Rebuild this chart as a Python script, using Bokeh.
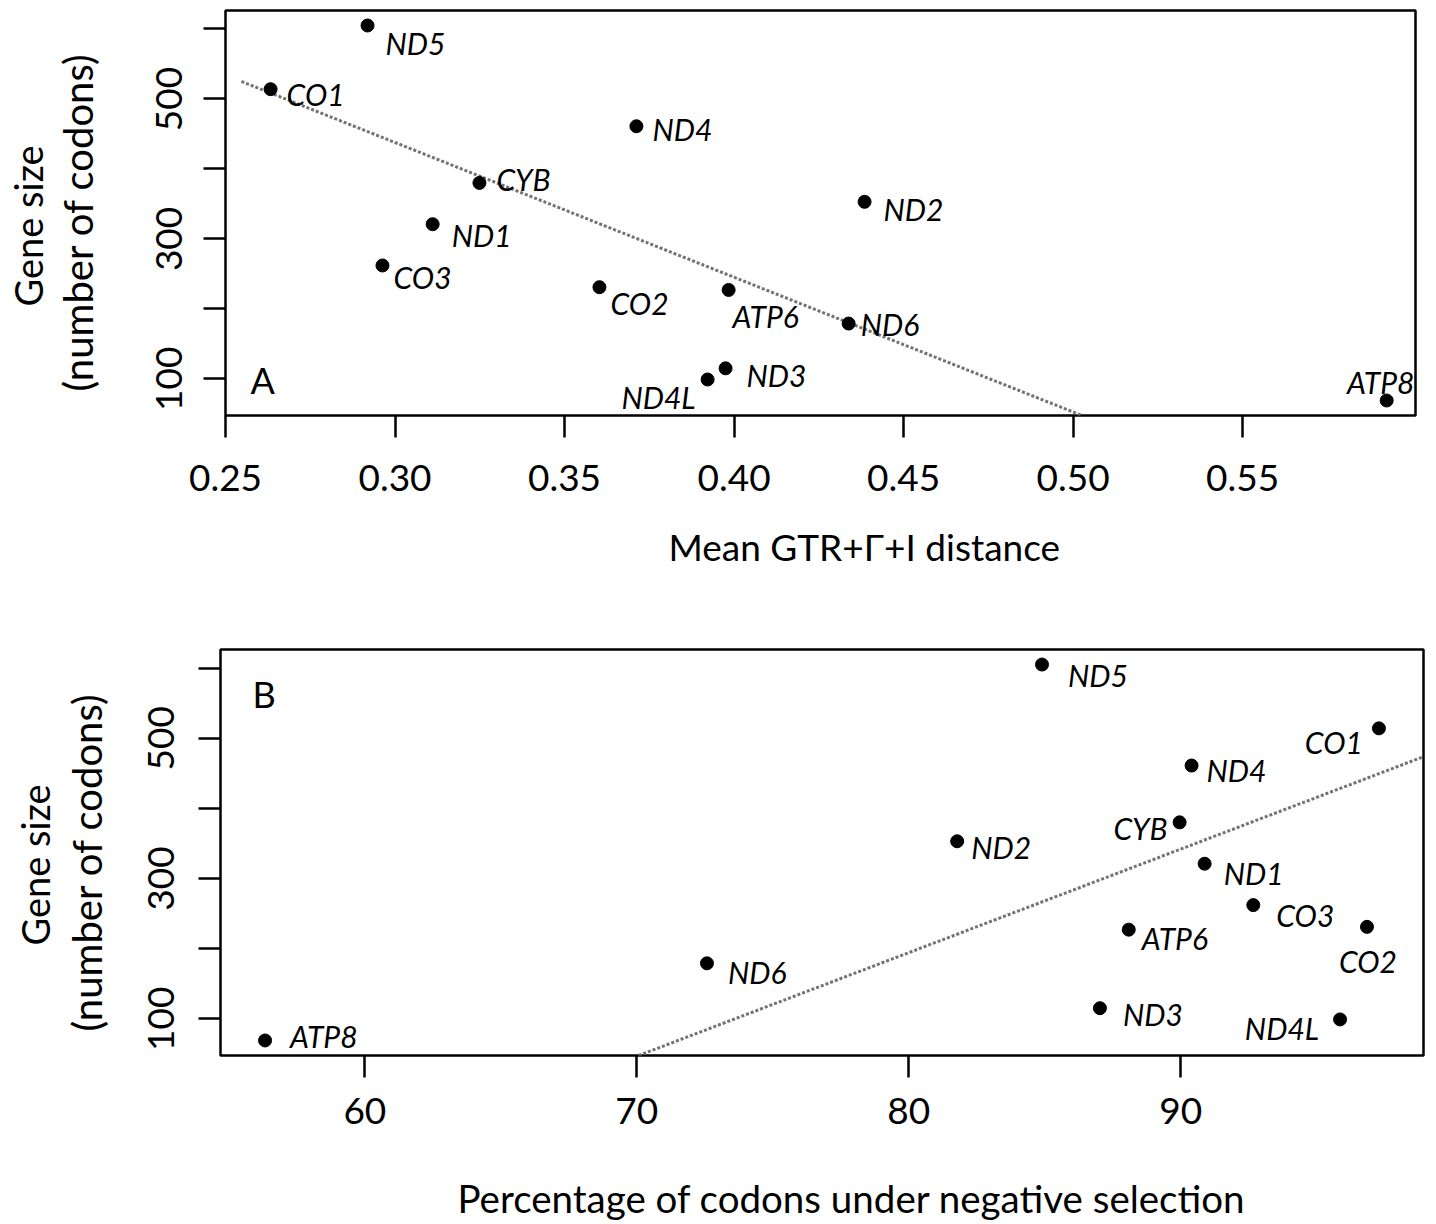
import math
from bokeh.plotting import figure
from bokeh.layouts import column
from bokeh.models import Range1d, FixedTicker, Label, ColumnDataSource, Title, LinearAxis
from bokeh.embed import file_html
from bokeh.resources import INLINE

# ---------------- data ----------------
genes = ["ND5", "CO1", "ND4", "CYB", "ND2", "ND1", "CO3", "CO2", "ATP6", "ND6", "ND3", "ND4L", "ATP8"]
gene_size = [605, 514, 461, 380, 353, 321, 262, 231, 227, 179, 115, 99, 69]
mean_distance = [0.2919, 0.2633, 0.3712, 0.3249, 0.4385, 0.3111, 0.2963, 0.3603, 0.3984, 0.4338, 0.3975, 0.3922, 0.5925]
pct_negative = [84.90, 97.29, 90.40, 89.96, 81.78, 90.88, 92.67, 96.85, 88.09, 72.58, 87.03, 95.86, 56.33]

# fitted regression lines
fit_a_slope, fit_a_intercept, fit_a_x_start = -1926.0, 1015.6, 0.2547
fit_b_slope, fit_b_intercept = 14.76, -986.6

x_ticks_a = [0.25, 0.30, 0.35, 0.40, 0.45, 0.50, 0.55]
x_ticks_b = [60, 70, 80, 90]
y_ticks = [100, 200, 300, 400, 500, 600]
y_tick_labels = {100: "100", 200: "", 300: "300", 400: "", 500: "500", 600: ""}

title_x_a = "Mean GTR+\u0393+I  distance"
title_x_b = "Percentage of codons under negative selection"
title_y = ["Gene size", "(number of codons)"]

# ---------------- style: label placement (pixels) ----------------
lab_a = {"ND5": ("left", 18, 17.5), "CO1": ("left", 16, 4.5), "ND4": ("left", 16, 2.5),
         "CYB": ("left", 17, -3.5), "ND2": ("left", 19, 7.5), "ND1": ("left", 19, 10.5),
         "CO3": ("left", 11, 11.5), "CO2": ("left", 11, 15.5), "ATP6": ("left", 4, 26.5),
         "ND6": ("left", 12, 0.5), "ND3": ("left", 21, 6.5), "ND4L": ("right", -12, 17.5),
         "ATP8": ("center", -6, -18.5)}
lab_b = {"ATP8": ("left", 25, -4.5), "ND6": ("left", 21, 9), "ND2": ("left", 14, 6),
         "ND5": ("left", 26, 10), "CO1": ("right", -16, 13.5), "ND4": ("left", 15, 4.5),
         "CYB": ("right", -12, 6), "ND1": ("left", 19, 9.5), "CO3": ("left", 23, 9.5),
         "ATP6": ("left", 13, 8.5), "CO2": ("center", 1, 34.5), "ND3": ("left", 23, 5.5),
         "ND4L": ("right", -21, 8.5)}

FONT = "Lato"
ymin, ymax = min(gene_size), max(gene_size)
ypad = 0.04 * (ymax - ymin)
y_lo, y_hi = ymin - ypad, ymax + ypad


def spacer_axis(size, at):
    # an axis with one invisible tick whose length reserves `size` pixels
    ax = LinearAxis(ticker=FixedTicker(ticks=[at]))
    ax.axis_line_color = None
    ax.major_tick_out = size
    ax.major_tick_in = 0
    ax.major_tick_line_color = None
    ax.minor_tick_line_color = None
    ax.major_label_standoff = 0
    ax.major_label_overrides = {at: ""}
    ax.major_label_text_font_size = "0px"
    return ax


def side_title(text, size, offset, valign, standoff=0):
    return Title(text=text, align="left", offset=offset, standoff=standoff,
                 vertical_align=valign, text_font=FONT, text_font_style="normal",
                 text_font_size=size, text_color="black")


def panel(xs, x_range, x_ticks, fmt, height, borders, labpos, fit, xtitle, cfg, letter):
    left, right, top, bottom = borders
    p = figure(width=1436, height=height, x_range=x_range, y_range=Range1d(y_lo, y_hi),
               output_backend="svg", toolbar_location=None, frame_align=False,
               min_border_left=left, min_border_right=right,
               min_border_top=top, min_border_bottom=bottom)
    p.grid.visible = False
    p.outline_line_color = "black"
    p.outline_line_width = 2.5
    p.background_fill_color = "white"
    p.border_fill_color = "white"
    for ax in (p.xaxis[0], p.yaxis[0]):
        ax.axis_line_color = None
        ax.major_tick_in = 0
        ax.major_tick_out = 22
        ax.major_tick_line_width = 2.5
        ax.major_tick_line_color = "black"
        ax.minor_tick_line_color = None
        ax.major_label_text_font = FONT
        ax.major_label_text_font_size = "37px"
        ax.major_label_text_color = "black"
    p.xaxis.major_label_standoff = cfg["x_standoff"]
    p.yaxis.major_label_standoff = cfg["y_standoff"]
    p.xaxis.ticker = FixedTicker(ticks=x_ticks)
    p.xaxis.major_label_overrides = {t: fmt.format(t) for t in x_ticks}
    p.yaxis.ticker = FixedTicker(ticks=y_ticks)
    p.yaxis.major_label_overrides = y_tick_labels
    p.yaxis.major_label_orientation = "vertical"

    # regression line
    slope, intercept, xa, xb = fit
    xs_line = [xa, xb]
    ys_line = [intercept + slope * v for v in xs_line]
    p.line(xs_line, ys_line, line_color="#737373", line_width=3, line_dash="3 2")

    # points
    p.scatter(xs, gene_size, size=13, color="black")

    # labels grouped by alignment
    for align in ("left", "right", "center"):
        d = dict(x=[], y=[], t=[], dx=[], dy=[])
        for g, xv, yv in zip(genes, xs, gene_size):
            a, dx, dy = labpos[g]
            if a == align:
                d["x"].append(xv); d["y"].append(yv); d["t"].append(g)
                d["dx"].append(dx); d["dy"].append(dy)
        if d["x"]:
            p.text(x="x", y="y", text="t", x_offset="dx", y_offset="dy",
                   source=ColumnDataSource(d), text_align=align, text_baseline="alphabetic",
                   text_font={"value": FONT}, text_font_style="italic",
                   text_font_size={"value": "30px"}, text_color="black")

    y_mid = 0.5 * (y_lo + y_hi)
    x_mid = 0.5 * (x_range.start + x_range.end)

    # y titles (stacked outward from the frame)
    p.add_layout(spacer_axis(cfg["nc_gap"], y_mid), "left")
    p.add_layout(side_title(title_y[1], "40px", cfg["nc_offset"], "bottom"), "left")
    p.add_layout(spacer_axis(cfg["gs_gap"], y_mid), "left")
    p.add_layout(side_title(title_y[0], "38px", cfg["gs_offset"], "bottom"), "left")

    # x title
    if cfg["xt_gap"] > 0:
        p.add_layout(spacer_axis(cfg["xt_gap"], x_mid), "below")
    p.add_layout(side_title(xtitle, cfg["xt_size"], cfg["xt_offset"], "top",
                            cfg["xt_standoff"]), "below")

    # panel letter
    p.add_layout(Label(x=cfg["let"][0], y=cfg["let"][1], x_units="screen", y_units="screen",
                       text=letter, text_align="left", text_baseline="alphabetic",
                       text_font=FONT, text_font_size="36px", text_color="black"))
    return p


# panel A
xa_lo, xa_hi = 0.25, 0.601
a_end = (y_lo - fit_a_intercept) / fit_a_slope
cfg_a = dict(x_standoff=27, y_standoff=21, nc_gap=52, gs_gap=1, nc_offset=24, gs_offset=109,
             xt_gap=0, xt_offset=443, xt_standoff=60, xt_size="37px", let=(25, 36))
pA = panel(mean_distance, Range1d(xa_lo, xa_hi), x_ticks_a, "{:.2f}", 620,
           (225, 21, 10, 205), lab_a,
           (fit_a_slope, fit_a_intercept, fit_a_x_start, a_end),
           title_x_a, cfg_a, "A")

# panel B
xmin_b, xmax_b = min(pct_negative), max(pct_negative)
xpad_b = 0.04 * (xmax_b - xmin_b)
xb_lo, xb_hi = xmin_b - xpad_b, xmax_b + xpad_b
b_start = (y_lo - fit_b_intercept) / fit_b_slope
cfg_b = dict(x_standoff=20, y_standoff=24, nc_gap=35, gs_gap=3, nc_offset=24, gs_offset=110,
             xt_gap=48, xt_offset=237, xt_standoff=0, xt_size="38.5px", let=(32, 362))
pB = panel(pct_negative, Range1d(xb_lo, xb_hi), x_ticks_b, "{:.0f}", 604,
           (220, 13, 29, 169), lab_b,
           (fit_b_slope, fit_b_intercept, b_start, xb_hi),
           title_x_b, cfg_b, "B")

layout = column(pA, pB, spacing=0)
open("out.html", "w").write(file_html(layout, INLINE))
